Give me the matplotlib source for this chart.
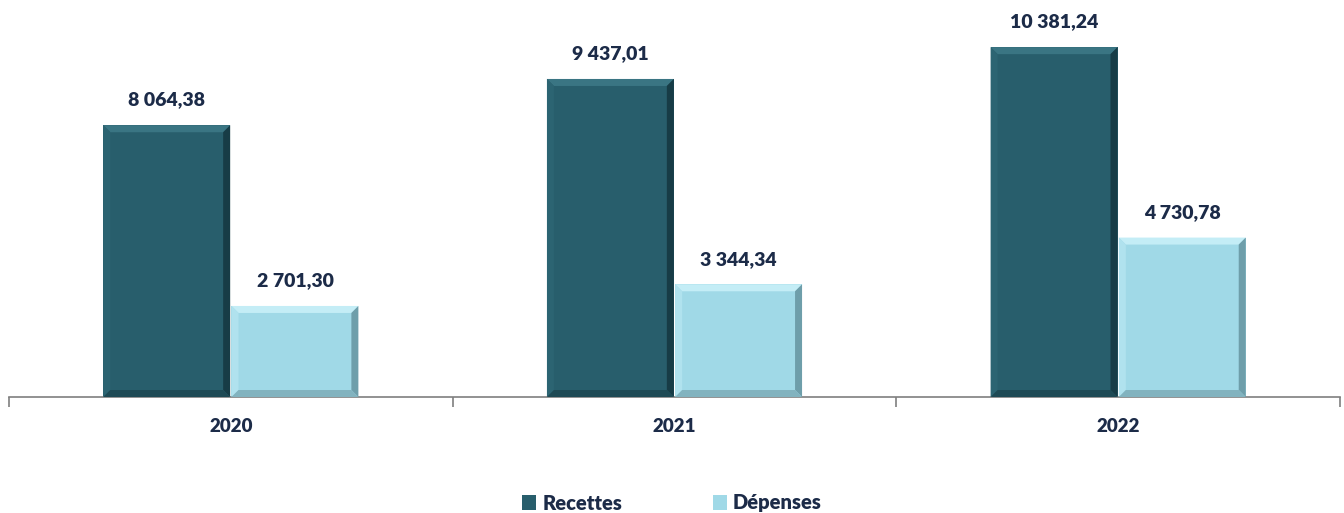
import matplotlib
matplotlib.use("Agg")
import matplotlib.pyplot as plt
from matplotlib.patches import Polygon
import numpy as np

years = ["2020", "2021", "2022"]
recettes = [8064.38, 9437.01, 10381.24]
depenses = [2701.30, 3344.34, 4730.78]
series_names = ["Recettes", "Dépenses"]

def fmt(v):
    s = f"{v:,.2f}"
    return s.replace(",", " ").replace(".", ",")

W, H, DPI = 1344, 513, 100
fig = plt.figure(figsize=(W / DPI, H / DPI), dpi=DPI)
plt.rcParams['font.family'] = ['Lato', 'DejaVu Sans']
ax = fig.add_axes([9 / W, (H - 397) / H, (1340 - 9) / W, 397 / H])
ax.set_xlim(-0.5, 2.5)
ax.set_ylim(0, 11780)

x = np.arange(len(years))
bw = 0.286
off = 0.1445
dark = "#285E6C"
light = "#A0D9E7"
txtc = "#1C2B48"

b1 = ax.bar(x - off, recettes, bw, color=dark, label=series_names[0], zorder=2)
b2 = ax.bar(x + off, depenses, bw, color=light, label=series_names[1], zorder=2)

# bevel effect
px_x = 3.0 / (1340 - 9)
px_y = 11780 / 397
bev = 7
def bevel(bars, ctop, cleft, cright, cbot):
    for r in bars:
        x0, y0 = r.get_x(), r.get_y()
        x1, y1 = x0 + r.get_width(), y0 + r.get_height()
        dx, dy = bev * px_x, bev * px_y
        ax.add_patch(Polygon([(x0, y1), (x1, y1), (x1 - dx, y1 - dy), (x0 + dx, y1 - dy)], closed=True, color=ctop, lw=0, zorder=3))
        ax.add_patch(Polygon([(x0, y0), (x0, y1), (x0 + dx, y1 - dy), (x0 + dx, y0 + dy)], closed=True, color=cleft, lw=0, zorder=3))
        ax.add_patch(Polygon([(x1, y0), (x1, y1), (x1 - dx, y1 - dy), (x1 - dx, y0 + dy)], closed=True, color=cright, lw=0, zorder=3))
        ax.add_patch(Polygon([(x0, y0), (x1, y0), (x1 - dx, y0 + dy), (x0 + dx, y0 + dy)], closed=True, color=cbot, lw=0, zorder=3))

bevel(b1, "#3A7583", "#2C6472", "#173C46", "#1E4A55")
bevel(b2, "#C4EDF6", "#B0E2EE", "#6E9EAA", "#82B3BF")

for bars, vals in ((b1, recettes), (b2, depenses)):
    for r, v in zip(bars, vals):
        ax.annotate(fmt(v), (r.get_x() + r.get_width() / 2, r.get_height()),
                    xytext=(0, 12), textcoords="offset points", ha="center", va="bottom",
                    fontsize=14, fontweight="heavy", color=txtc)

for s in ("top", "right", "left"):
    ax.spines[s].set_visible(False)
ax.spines["bottom"].set_color("#7F7F7F")
ax.spines["bottom"].set_linewidth(1.2)
ax.set_yticks([])
ax.set_xticks([-0.5, 0.5, 1.5, 2.5], minor=False)
ax.set_xticklabels([])
ax.tick_params(axis="x", length=7, color="#7F7F7F", width=1.2)
ax.set_xticks(x, minor=True)
ax.set_xticklabels(years, minor=True, fontsize=13.5, fontweight="heavy", color=txtc)
ax.tick_params(axis="x", which="minor", length=0, pad=15)

leg = fig.legend(handles=[b1, b2], labels=series_names, loc="center", bbox_to_anchor=(0.5, (H - 503) / H),
                 ncol=2, frameon=False, fontsize=14.5, handlelength=0.7, handleheight=0.7,
                 handletextpad=0.3, columnspacing=4.5)
for t in leg.get_texts():
    t.set_fontweight("heavy")
    t.set_color(txtc)

fig.savefig("out.png", dpi=DPI)
